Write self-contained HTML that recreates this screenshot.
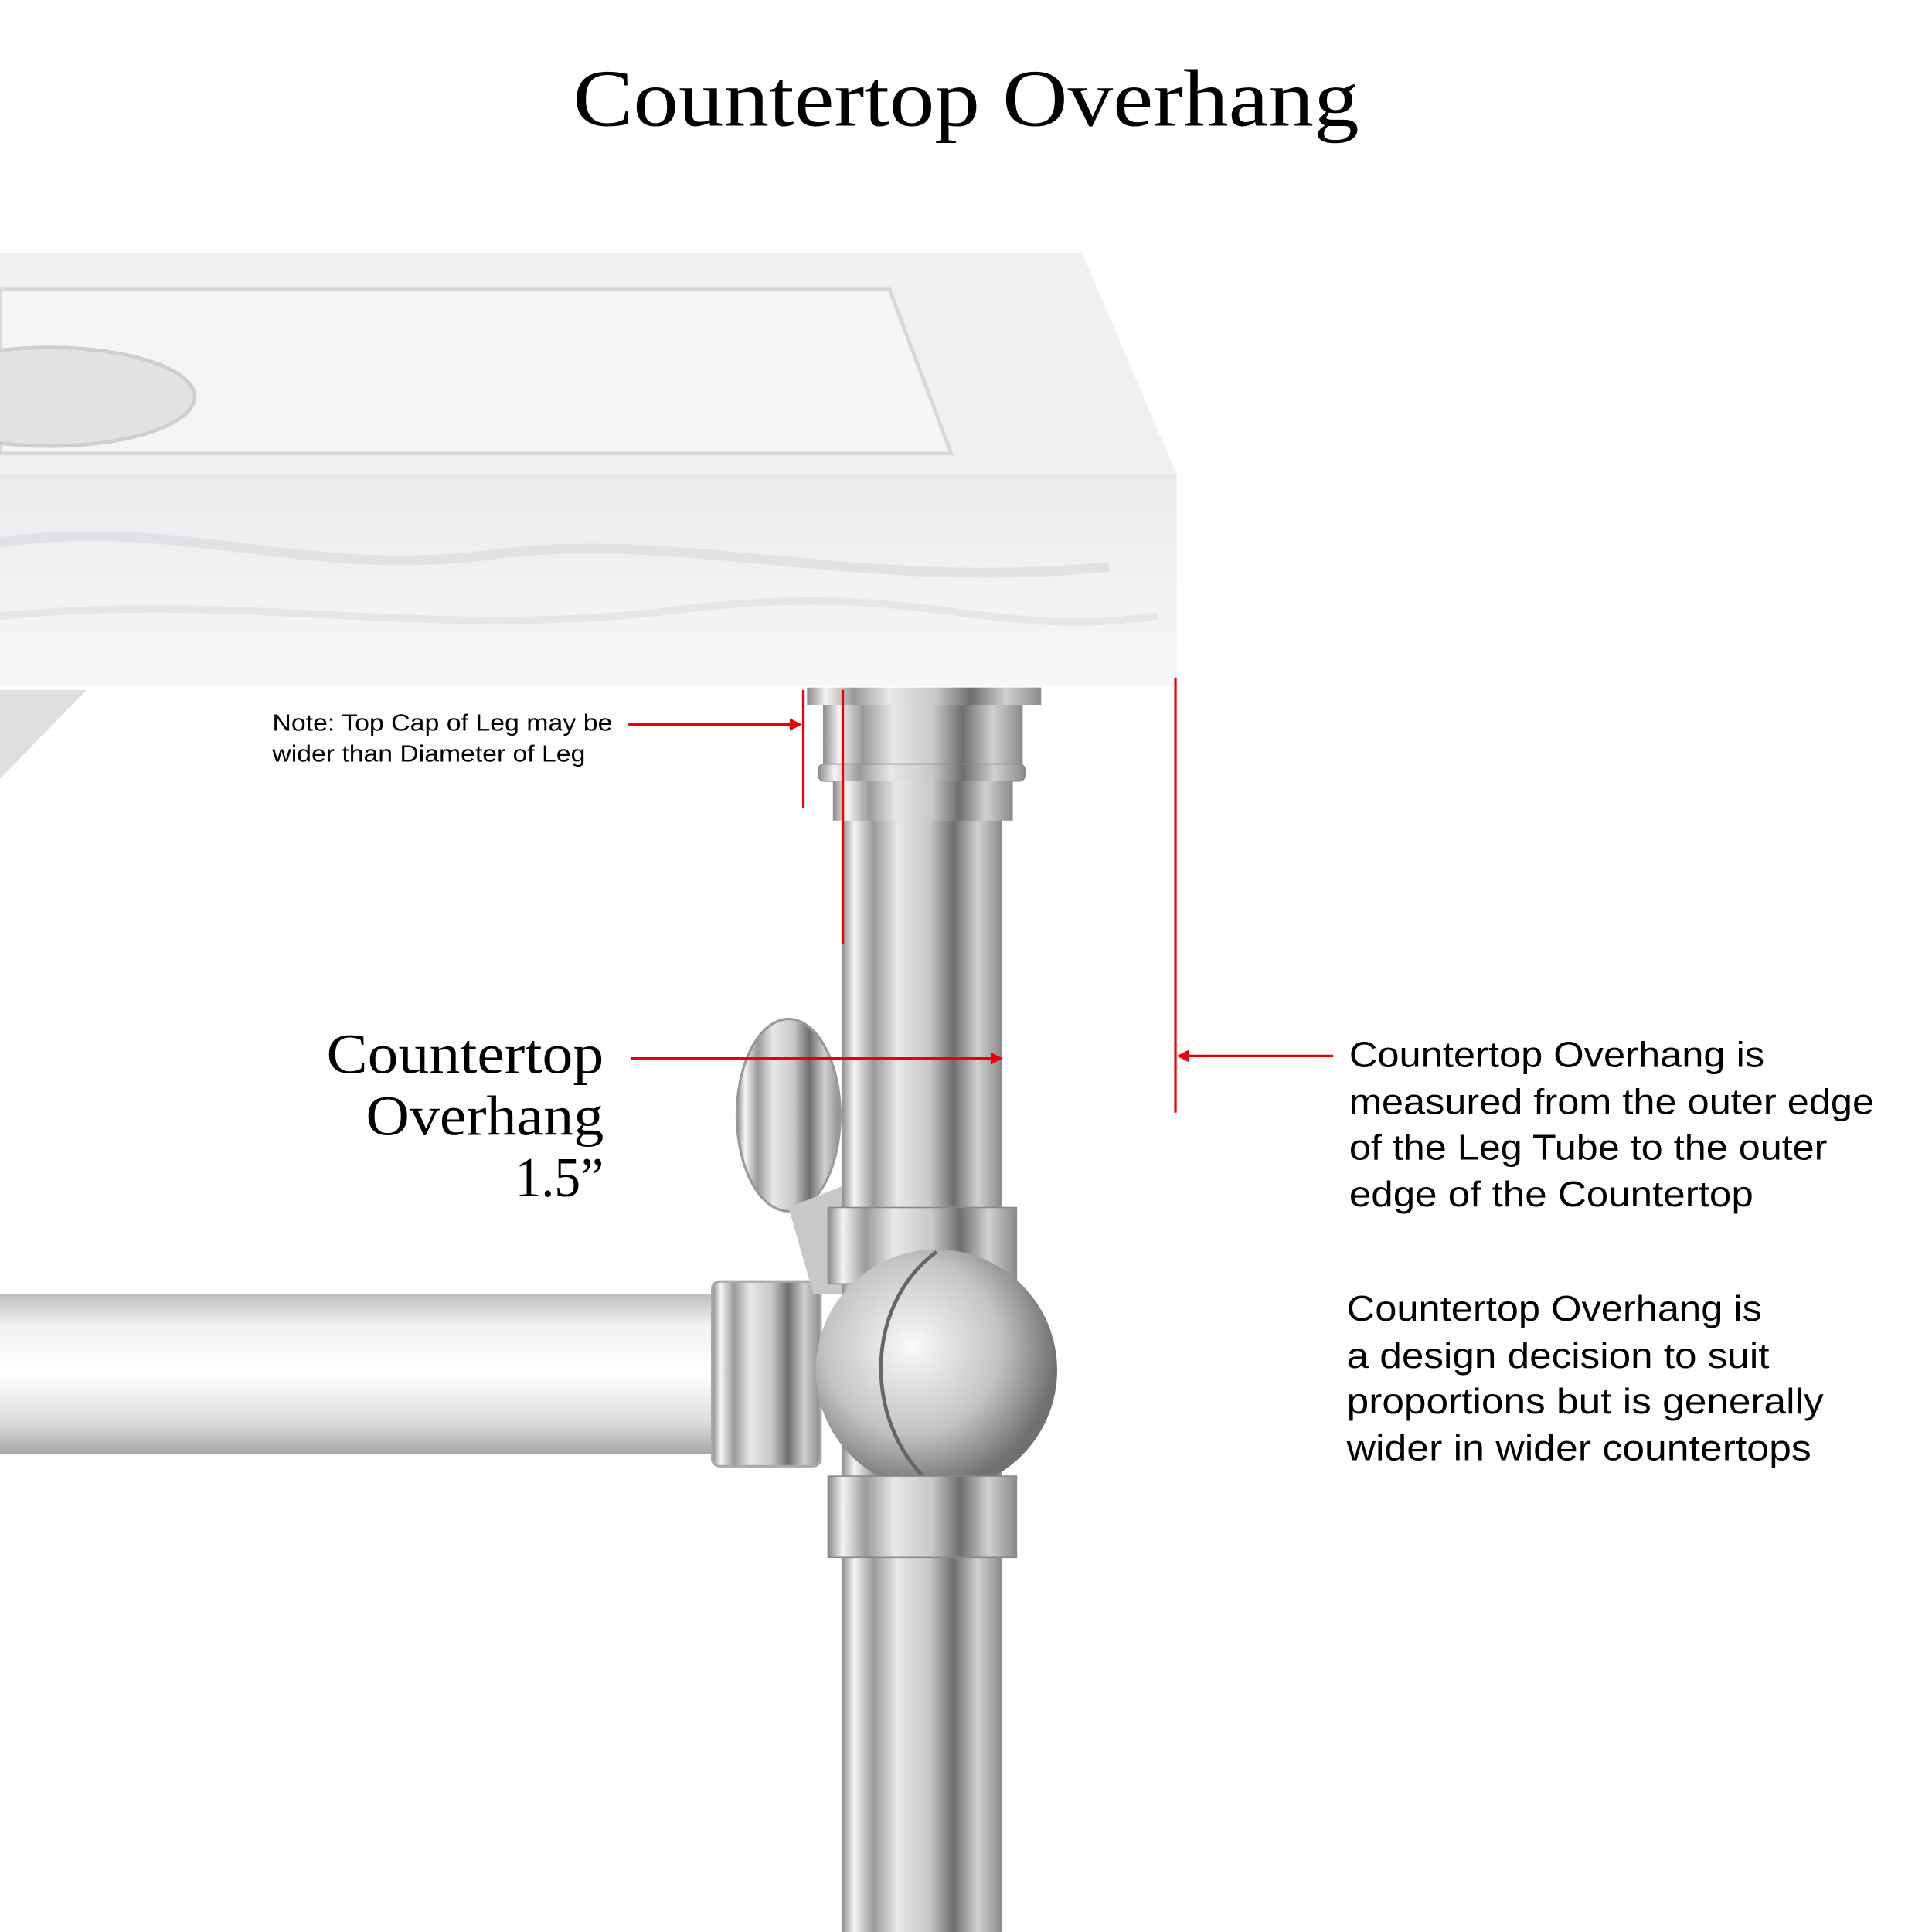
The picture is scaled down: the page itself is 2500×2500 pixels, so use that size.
<!DOCTYPE html>
<html><head><meta charset="utf-8"><style>
html,body{margin:0;padding:0;background:#fff}
svg{display:block}
</style></head><body>
<svg width="2500" height="2500" viewBox="0 0 1568 1568" xmlns="http://www.w3.org/2000/svg">
<defs>
<linearGradient id="chrome" x1="0" x2="1" y1="0" y2="0">
<stop offset="0" stop-color="#8a8a8a"/><stop offset="0.08" stop-color="#f4f4f4"/>
<stop offset="0.2" stop-color="#9a9a9a"/><stop offset="0.35" stop-color="#e8e8e8"/>
<stop offset="0.55" stop-color="#c8c8c8"/><stop offset="0.7" stop-color="#6e6e6e"/>
<stop offset="0.85" stop-color="#d0d0d0"/><stop offset="1" stop-color="#8a8a8a"/>
</linearGradient>
<linearGradient id="bar" x1="0" x2="0" y1="0" y2="1">
<stop offset="0" stop-color="#bdbdbd"/><stop offset="0.2" stop-color="#f2f2f2"/>
<stop offset="0.5" stop-color="#ffffff"/><stop offset="0.8" stop-color="#dcdcdc"/>
<stop offset="1" stop-color="#a8a8a8"/>
</linearGradient>
<radialGradient id="ball" cx="0.4" cy="0.4" r="0.6">
<stop offset="0" stop-color="#fafafa"/><stop offset="0.6" stop-color="#c4c4c4"/><stop offset="1" stop-color="#707070"/>
</radialGradient>
<linearGradient id="front" x1="0" x2="0" y1="0" y2="1">
<stop offset="0" stop-color="#eaeaec"/><stop offset="0.5" stop-color="#f2f2f3"/><stop offset="1" stop-color="#f7f7f8"/>
</linearGradient>
</defs>
<text x="465" y="102" textLength="638" lengthAdjust="spacingAndGlyphs" font-family="Liberation Serif, serif" font-size="66" fill="#000">Countertop Overhang</text>

<polygon points="0,205 878,205 955,385 0,385" fill="#f0f0f2"/>
<polygon points="0,235 722,235 772,368 0,368" fill="#f5f5f6" stroke="#d8d8da" stroke-width="3"/>
<ellipse cx="40" cy="322" rx="118" ry="40" fill="#e2e2e4" stroke="#cfcfd2" stroke-width="3"/>
<rect x="0" y="385" width="955" height="172" fill="url(#front)"/>
<path d="M0,440 C150,420 250,470 400,450 S700,480 900,460" stroke="#dcdce0" stroke-width="8" fill="none" opacity="0.7"/>
<path d="M0,500 C200,480 350,520 550,495 S800,520 940,500" stroke="#e0e0e4" stroke-width="6" fill="none" opacity="0.7"/>
<polygon points="0,560 70,560 0,632" fill="#dedede"/>

<rect x="0" y="1050" width="590" height="130" fill="url(#bar)"/>
<rect x="578" y="1040" width="88" height="150" rx="6" fill="url(#chrome)" stroke="#aaa" stroke-width="2"/>
<ellipse cx="640" cy="905" rx="42" ry="78" fill="url(#chrome)" stroke="#999" stroke-width="2"/>
<polygon points="640,980 690,960 690,1050 660,1050" fill="#c8c8c8"/>

<rect x="683" y="640" width="130" height="928" fill="url(#chrome)"/>
<rect x="655" y="558" width="190" height="14" fill="url(#chrome)"/>
<rect x="668" y="572" width="162" height="50" fill="url(#chrome)"/>
<rect x="664" y="620" width="168" height="14" rx="5" fill="url(#chrome)" stroke="#888" stroke-width="1"/>
<rect x="676" y="634" width="146" height="32" fill="url(#chrome)"/>
<rect x="672" y="980" width="153" height="62" fill="url(#chrome)" stroke="#888" stroke-width="1"/>
<circle cx="760" cy="1112" r="98" fill="url(#ball)"/>
<path d="M760,1016 C700,1060 700,1160 760,1208" stroke="#666" stroke-width="3" fill="none"/>
<rect x="672" y="1198" width="153" height="66" fill="url(#chrome)" stroke="#888" stroke-width="1"/>

<g stroke="#e00" stroke-width="2" fill="#e00">
<line x1="652" y1="560" x2="652" y2="656"/>
<line x1="684" y1="560" x2="684" y2="766"/>
<line x1="954" y1="550" x2="954" y2="903"/>
<line x1="510" y1="588" x2="645" y2="588"/>
<polygon points="651,588 641,583 641,593" stroke="none"/>
<line x1="512" y1="859" x2="806" y2="859"/>
<polygon points="814,859 804,854 804,864" stroke="none"/>
<line x1="1082" y1="857" x2="962" y2="857"/>
<polygon points="955,857 965,852 965,862" stroke="none"/>
</g>

<g font-family="Liberation Sans, sans-serif" fill="#000" lengthAdjust="spacingAndGlyphs">
<text x="221" y="593" font-size="19" textLength="276" lengthAdjust="spacingAndGlyphs">Note: Top Cap of Leg may be</text>
<text x="221" y="618" font-size="19" textLength="254" lengthAdjust="spacingAndGlyphs">wider than Diameter of Leg</text>
<g font-size="29">
<text x="1095" y="866" textLength="337" lengthAdjust="spacingAndGlyphs">Countertop Overhang is</text>
<text x="1095" y="904" textLength="426" lengthAdjust="spacingAndGlyphs">measured from the outer edge</text>
<text x="1095" y="941" textLength="388" lengthAdjust="spacingAndGlyphs">of the Leg Tube to the outer</text>
<text x="1095" y="979" textLength="328" lengthAdjust="spacingAndGlyphs">edge of the Countertop</text>
<text x="1093" y="1072" textLength="337" lengthAdjust="spacingAndGlyphs">Countertop Overhang is</text>
<text x="1093" y="1110" textLength="343" lengthAdjust="spacingAndGlyphs">a design decision to suit</text>
<text x="1093" y="1147" textLength="387" lengthAdjust="spacingAndGlyphs">proportions but is generally</text>
<text x="1093" y="1185" textLength="377" lengthAdjust="spacingAndGlyphs">wider in wider countertops</text>
</g>
</g>
<g font-family="Liberation Serif, serif" font-size="46" fill="#000">
<text x="265" y="871" textLength="225" lengthAdjust="spacingAndGlyphs">Countertop</text>
<text x="297" y="921" textLength="193" lengthAdjust="spacingAndGlyphs">Overhang</text>
<text x="418" y="971" textLength="72" lengthAdjust="spacingAndGlyphs">1.5”</text>
</g>
</svg>
</body></html>
